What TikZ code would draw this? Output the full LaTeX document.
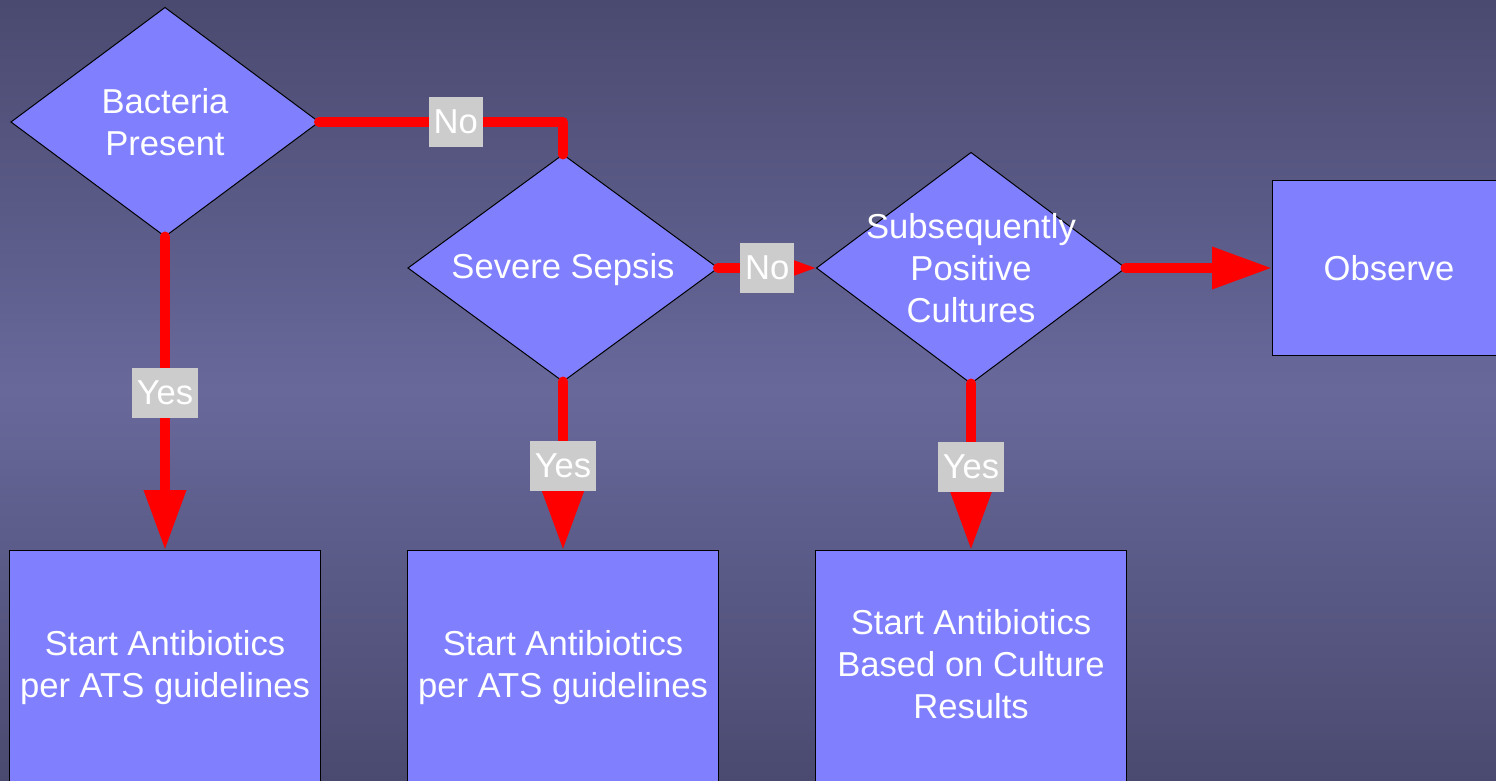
\documentclass[tikz,border=0pt]{standalone}
\usepackage{fontspec}
\setmainfont{Liberation Sans}
\usetikzlibrary{shapes.geometric,arrows.meta}
\definecolor{bgdark}{HTML}{4A4A70}
\definecolor{bglight}{HTML}{68689B}
\definecolor{boxblue}{HTML}{8080FF}
\definecolor{tagGrey}{HTML}{CCCCCC}
\begin{document}
\begin{tikzpicture}[x=0.5pt,y=-0.5pt,
    dec/.style={diamond,draw=black,line width=0.5pt,fill=boxblue,inner sep=0pt,outer sep=0pt},
    act/.style={rectangle,draw=black,line width=0.5pt,fill=boxblue,inner sep=0pt,outer sep=0pt},
    txt/.style={text=white,align=center,font=\fontsize{17.3}{21}\selectfont},
    flow/.style={draw=red,line width=5pt,line cap=round,line join=round},
    arr/.style={-{Triangle[length=30pt,width=20pt]}},
    tag/.style={fill=tagGrey,text=white,inner xsep=2.5pt,minimum height=25pt,font=\fontsize{17.3}{21}\selectfont}]
  \useasboundingbox (0,0) rectangle (1496,781);
  \shade[top color=bgdark,bottom color=bgdark,middle color=bglight] (0,0) rectangle (1496,781);
  % decisions
  \node[dec,minimum width=154pt,minimum height=114.5pt] (bact) at (165,122) {};
  \node[txt] at (bact) {Bacteria\\Present};
  \node[dec,minimum width=155pt,minimum height=113.5pt] (seps) at (563,268) {};
  \node[txt] at (seps.center) [yshift=-1pt] {Severe Sepsis};
  \node[dec,minimum width=154.5pt,minimum height=115.5pt] (cult) at (971,268) {};
  \node[txt] at (cult) {Subsequently\\Positive\\Cultures};
  % actions
  \node[act,txt,minimum width=117pt,minimum height=87.5pt] (obs) at (1389,268) {Observe};
  \foreach \x/\n/\t in {165/ats1/{Start Antibiotics\\per ATS guidelines},
                        563/ats2/{Start Antibiotics\\per ATS guidelines},
                        971/cres/{Start Antibiotics\\Based on Culture\\Results}}{
    \node[act,txt,minimum width=155.5pt,minimum height=116pt,text depth=2pt] (\n) at (\x,666) {\t};
  }
  % connectors
  \draw[flow,arr] (bact.south) -- node[tag]{Yes} (ats1.north);
  \draw[flow] (bact.east) -| node[tag,pos=0.28]{No} (seps.north);
  \draw[flow,arr] (seps.south) -- node[tag]{Yes} (ats2.north);
  \draw[flow,arr] (seps.east) -- node[tag]{No} (cult.west);
  \draw[flow,arr] (cult.east) -- (obs.west);
  \draw[flow,arr] (cult.south) -- node[tag]{Yes} (cres.north);
\end{tikzpicture}
\end{document}
